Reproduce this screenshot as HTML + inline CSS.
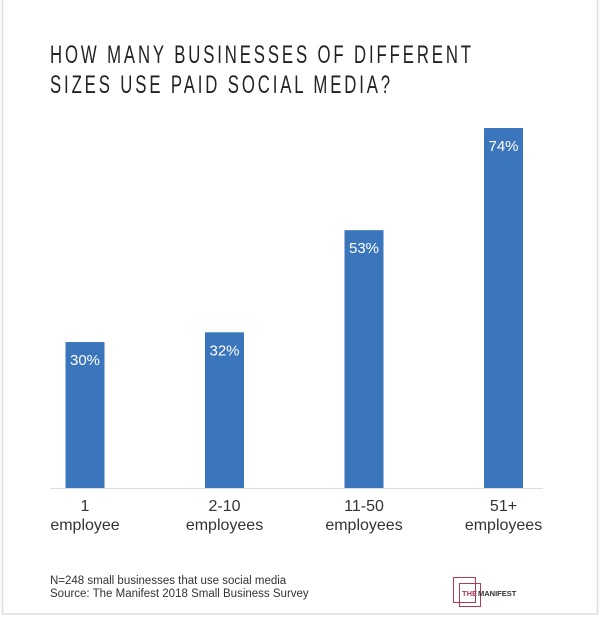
<!DOCTYPE html>
<html><head><meta charset="utf-8"><style>
body{margin:0;background:#fff;}
#wrap{position:relative;width:600px;height:617px;overflow:hidden;background:#fff;}
svg text{font-family:"Liberation Sans",sans-serif;}
</style></head><body>
<div id="wrap">
<svg id="chart" width="600" height="617">
<rect x="2.5" y="-2" width="595" height="616" fill="none" stroke="#ddd" stroke-width="1.5"/>
<text x="50" y="63" font-size="25" fill="#222" letter-spacing="4.3" transform="translate(50,0) scale(0.67,1) translate(-50,0)">HOW MANY BUSINESSES OF DIFFERENT</text>
<text x="50" y="93" font-size="25" fill="#222" letter-spacing="4.3" transform="translate(50,0) scale(0.67,1) translate(-50,0)">SIZES USE PAID SOCIAL MEDIA?</text>
<g id="bars"></g>
<line x1="50" y1="488.5" x2="543" y2="488.5" stroke="#ddd" stroke-width="1"/>
<g id="labels"></g>
<text x="50" y="584" font-size="11.5" fill="#333">N=248 small businesses that use social media</text>
<text x="50" y="597" font-size="11.5" fill="#333">Source: The Manifest 2018 Small Business Survey</text>
<g>
<rect x="453.5" y="577.5" width="22" height="25" fill="none" stroke="#b03a5a" stroke-width="1"/>
<rect x="459.5" y="583.5" width="21" height="23" fill="none" stroke="#b03a5a" stroke-width="1"/>
<text x="462" y="596" font-size="7.5" font-weight="bold" fill="#b03a5a">THE</text>
<text x="478" y="596" font-size="7.5" font-weight="bold" fill="#333">MANIFEST</text>
</g>
</svg>
</div>
<script>
const categories=["1","2-10","11-50","51+"];
const subLabels=["employee","employees","employees","employees"];
const values=[30,32,53,74];
const valueLabels=["30%","32%","53%","74%"];
const NS="http://www.w3.org/2000/svg";
function x(i){return 85+i*139.5;}
function y(v){return 488-v*4.865;}
const bw=39;
const gb=document.getElementById('bars'),gl=document.getElementById('labels');
values.forEach((v,i)=>{
  const r=document.createElementNS(NS,'rect');
  r.setAttribute('x',x(i)-bw/2);r.setAttribute('y',y(v));
  r.setAttribute('width',bw);r.setAttribute('height',488-y(v));
  r.setAttribute('fill','#3b76bd');
  
  
  gb.appendChild(r);
  const t=document.createElementNS(NS,'text');
  t.setAttribute('x',x(i));t.setAttribute('y',y(v)+23);
  t.setAttribute('text-anchor','middle');t.setAttribute('font-size','15');t.setAttribute('fill','#fff');
  t.textContent=valueLabels[i];
  
  
  gb.appendChild(t);
  const a=document.createElementNS(NS,'text');
  a.setAttribute('x',x(i));a.setAttribute('y',511);
  a.setAttribute('text-anchor','middle');a.setAttribute('font-size','16');a.setAttribute('fill','#333');
  a.textContent=categories[i];
  
  
  gl.appendChild(a);
  const b=document.createElementNS(NS,'text');
  b.setAttribute('x',x(i));b.setAttribute('y',530);
  b.setAttribute('text-anchor','middle');b.setAttribute('font-size','16');b.setAttribute('fill','#333');
  b.textContent=subLabels[i];
  
  
  gl.appendChild(b);
});
</script>
</body></html>
